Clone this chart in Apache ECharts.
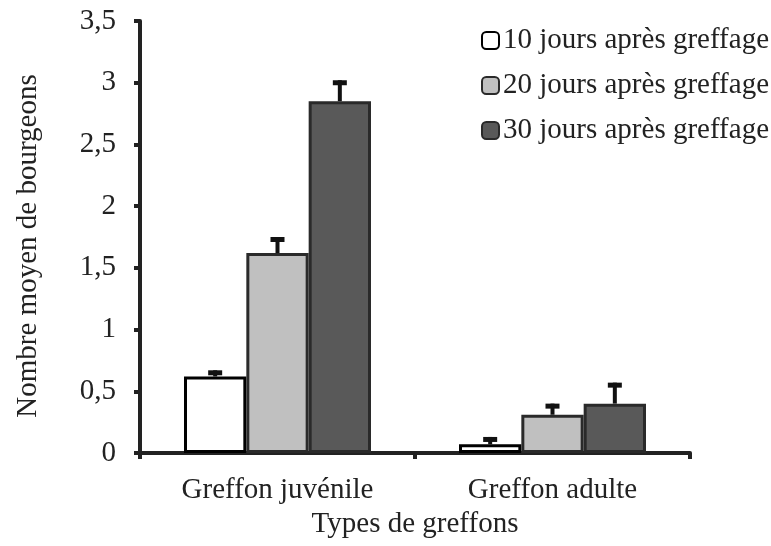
<!DOCTYPE html>
<html>
<head>
<meta charset="utf-8">
<script src="https://cdn.jsdelivr.net/npm/echarts@6/dist/echarts.min.js"></script>
<style>
  html, body { margin: 0; padding: 0; background: #fff; }
  #chart { width: 771px; height: 546px; }
</style>
</head>
<body>
<div id="chart"></div>
<script>
var categories = ['Greffon juvénile', 'Greffon adulte'];
var seriesNames = ['10 jours après greffage', '20 jours après greffage', '30 jours après greffage'];
var jours10 = [0.62, 0.07];
var jours20 = [1.62, 0.31];
var jours30 = [2.85, 0.40];
var err10 = [0.05, 0.06];
var err20 = [0.13, 0.09];
var err30 = [0.17, 0.17];
var yTicks = [0, 0.5, 1, 1.5, 2, 2.5, 3, 3.5];

var fills = ['#ffffff', '#c0c0c0', '#595959'];
var borders = ['#000000', '#2a2a2a', '#2a2a2a'];
var font = 'Liberation Serif';
var fs = 29;
var gapPct = 0.32;

var means = [jours10, jours20, jours30];
var errs = [err10, err20, err30];

var chart = echarts.init(document.getElementById('chart'), null, { renderer: 'canvas' });

var series = [];
for (var s = 0; s < 3; s++) {
  series.push({
    name: seriesNames[s],
    type: 'bar',
    data: means[s],
    barGap: '0%',
    barCategoryGap: (gapPct * 100) + '%',
    itemStyle: {
      color: fills[s],
      borderColor: borders[s],
      borderWidth: 3
    }
  });
}

// error bars (upper only)
var errData = [];
for (var s2 = 0; s2 < 3; s2++) {
  for (var c = 0; c < categories.length; c++) {
    errData.push([c, means[s2][c], means[s2][c] + errs[s2][c], s2]);
  }
}
series.push({
  type: 'custom',
  name: 'err',
  z: 5,
  silent: true,
  encode: { x: 0, y: [1, 2] },
  data: errData,
  renderItem: function (params, api) {
    var band = api.size([1, 0])[0];
    var barW = band * (1 - gapPct) / 3;
    var base = api.coord([api.value(0), api.value(1)]);
    var top = api.coord([api.value(0), api.value(2)]);
    var x = base[0] + (api.value(3) - 1) * barW;
    return {
      type: 'group',
      children: [
        { type: 'rect', shape: { x: x - 2, y: top[1], width: 4, height: base[1] - top[1] }, style: { fill: '#111' } },
        { type: 'rect', shape: { x: x - 7, y: top[1], width: 14, height: 5 }, style: { fill: '#111' } }
      ]
    };
  }
});

var option = {
  backgroundColor: '#fff',
  animation: false,
  grid: { left: 140, right: 81, top: 21, bottom: 93 },
  legend: {
    data: seriesNames,
    orient: 'vertical',
    left: 476,
    top: 21,
    itemWidth: 17,
    itemHeight: 17,
    itemGap: 16,
    textStyle: { fontFamily: font, fontSize: fs, lineHeight: 29, color: '#222', padding: [0, 0, 0, -1] }
  },
  xAxis: {
    type: 'category',
    data: categories,
    name: 'Types de greffons',
    nameLocation: 'middle',
    nameGap: 56,
    nameTextStyle: { fontFamily: font, fontSize: fs, color: '#222' },
    axisLine: { lineStyle: { color: '#222', width: 4 } },
    axisTick: { show: true, length: 6, lineStyle: { color: '#222', width: 4 } },
    axisLabel: { fontFamily: font, fontSize: fs, color: '#222', margin: 23 }
  },
  yAxis: {
    type: 'value',
    min: 0,
    max: 3.5,
    interval: 0.5,
    name: 'Nombre moyen de bourgeons',
    nameLocation: 'middle',
    nameGap: 97,
    nameTextStyle: { fontFamily: font, fontSize: fs, color: '#222', padding: [0, 18, 0, 0] },
    splitLine: { show: false },
    axisLine: { show: true, lineStyle: { color: '#222', width: 4 } },
    axisTick: { show: true, length: 6, lineStyle: { color: '#222', width: 4 } },
    axisLabel: {
      fontFamily: font, fontSize: fs, color: '#222', margin: 24,
      formatter: function (v) {
        return yTicks.indexOf(v) >= 0 ? String(v).replace('.', ',') : '';
      }
    }
  },
  series: series
};

chart.setOption(option);
</script>
</body>
</html>
